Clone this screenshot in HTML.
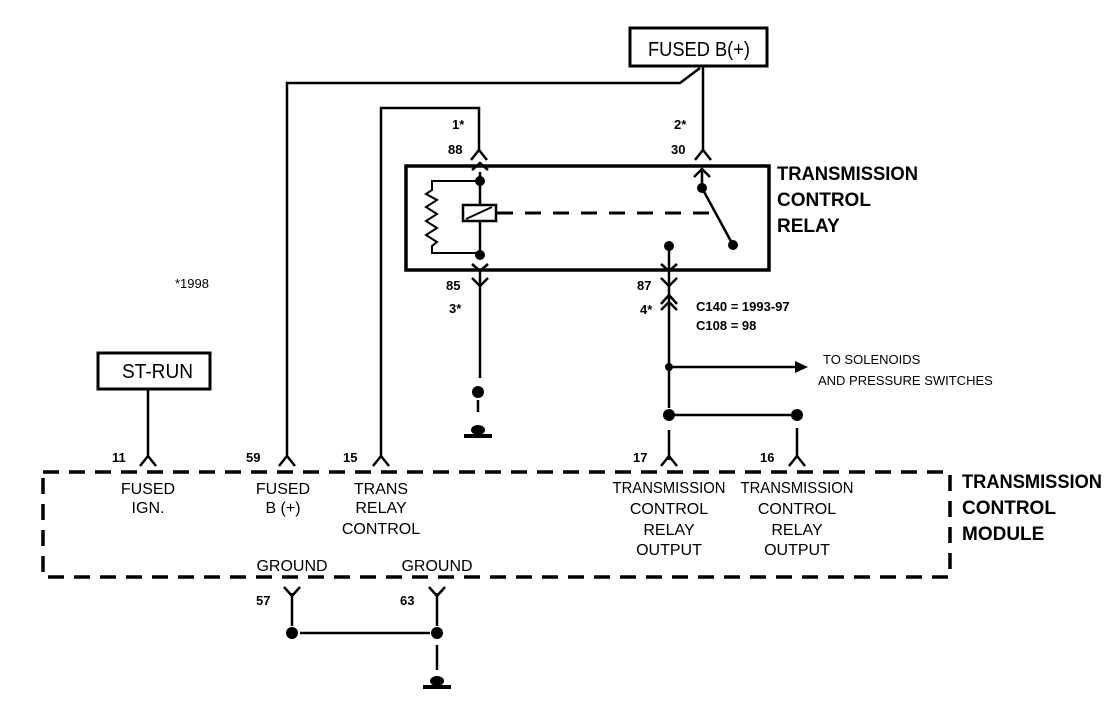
<!DOCTYPE html>
<html><head><style>
html,body{margin:0;padding:0;background:#fff;}
svg{display:block;}
text{font-family:"Liberation Sans",sans-serif;fill:#000;}
.s{font-size:16px;}
.b{font-size:19px;font-weight:bold;}
.n{font-size:13px;font-weight:bold;}
</style></head><body>
<svg width="1120" height="716" viewBox="0 0 1120 716" xmlns="http://www.w3.org/2000/svg">
<g stroke="#000" stroke-width="2.5" fill="none">
<rect x="630" y="28" width="137" height="38" stroke-width="3"/>
<path d="M703 66 V150"/>
<path d="M287 455 V83 H680 L700 68"/>
<path d="M381 455 V108 H479 V150"/>
<rect x="406" y="166" width="363" height="104" stroke-width="3.5"/>
<path d="M480 172 V256"/>
<rect x="463" y="205" width="33" height="16" fill="#fff"/>
<path d="M466 219 L492 207" stroke-width="2"/>
<path d="M480 181 H432 V190 L426 194 L437 200 L426 207 L437 214 L426 221 L437 228 L426 235 L437 242 L432 246 V253 H480" stroke-width="2"/>
<path d="M497 213 H712" stroke-dasharray="16,12" stroke-width="3"/>
<path d="M702 170 V188 L733 245" />
<path d="M669 246 V270"/>
<path d="M480 272 V378"/>
<path d="M478 400 V412"/>
<path d="M669 272 V408"/>
<path d="M669 367 H795"/>
<path d="M669 415 H797"/>
<path d="M669 430 V460"/>
<path d="M797 428 V458"/>
<rect x="98" y="353" width="112" height="36" stroke-width="3"/>
<path d="M148 389 V455"/>
<rect x="43" y="472" width="907" height="105" stroke-dasharray="16,10" stroke-width="3.5"/>
<path d="M292 593 V626 M437 593 V626 M300 633 H430 M437 645 V670"/>
</g>
<g stroke="#000" stroke-width="2.5" fill="none">
<path d="M140 466 L148 456 L156 466 M279 466 L287 456 L295 466 M373 466 L381 456 L389 466 M661 466 L669 456 L677 466 M789 466 L797 456 L805 466"/>
<path d="M471 160 L479 150 L487 160 M695 160 L703 150 L711 160"/>
<path d="M472 170 L480 163 L488 170 M694 177 L702 169 L710 177"/>
<path d="M472 264 L480 271 L488 264 M661 264 L669 271 L677 264"/>
<path d="M472 278 L480 286 L488 278 M661 278 L669 286 L677 278"/>
<path d="M661 304 L669 295 L677 304 M661 310 L669 302 L677 310"/>
<path d="M284 587 L292 596 L300 587 M429 587 L437 596 L445 587"/>
</g>
<polygon points="795,361 808,367 795,373" fill="#000"/>
<g fill="#000">
<circle cx="480" cy="181" r="5"/><circle cx="480" cy="255" r="5"/>
<circle cx="702" cy="188" r="5"/><circle cx="733" cy="245" r="5"/>
<circle cx="669" cy="246" r="5"/>
<circle cx="478" cy="392" r="6"/><circle cx="669" cy="367" r="4"/>
<circle cx="669" cy="415" r="6"/><circle cx="797" cy="415" r="6"/>
<circle cx="292" cy="633" r="6"/><circle cx="437" cy="633" r="6"/>
<ellipse cx="478" cy="430" rx="7" ry="5"/><rect x="464" y="434" width="28" height="4"/>
<ellipse cx="437" cy="681" rx="7" ry="5"/><rect x="423" y="685" width="28" height="4"/>
</g>
<text x="648" y="56" style="font-size:20px" textLength="102" lengthAdjust="spacingAndGlyphs">FUSED B(+)</text>
<text x="122" y="378" style="font-size:20px" textLength="71" lengthAdjust="spacingAndGlyphs">ST-RUN</text>
<text class="n" x="452" y="129">1*</text>
<text class="n" x="448" y="154">88</text>
<text class="n" x="674" y="129">2*</text>
<text class="n" x="671" y="154">30</text>
<text class="n" x="446" y="290">85</text>
<text class="n" x="449" y="313">3*</text>
<text class="n" x="637" y="290">87</text>
<text class="n" x="640" y="314">4*</text>
<text class="n" x="175" y="288" style="font-weight:normal">*1998</text>
<text class="n" x="696" y="311">C140 = 1993-97</text>
<text class="n" x="696" y="330">C108 = 98</text>
<text class="n" x="823" y="364" style="font-weight:normal">TO SOLENOIDS</text>
<text class="n" x="818" y="385" style="font-weight:normal">AND PRESSURE SWITCHES</text>
<text class="b" x="777" y="180" textLength="141" lengthAdjust="spacingAndGlyphs">TRANSMISSION</text>
<text class="b" x="777" y="206">CONTROL</text>
<text class="b" x="777" y="232">RELAY</text>
<text class="b" x="962" y="488" textLength="140" lengthAdjust="spacingAndGlyphs">TRANSMISSION</text>
<text class="b" x="962" y="514">CONTROL</text>
<text class="b" x="962" y="540">MODULE</text>
<text class="n" x="112" y="462">11</text>
<text class="n" x="246" y="462">59</text>
<text class="n" x="343" y="462">15</text>
<text class="n" x="633" y="462">17</text>
<text class="n" x="760" y="462">16</text>
<text class="n" x="256" y="605">57</text>
<text class="n" x="400" y="605">63</text>
<g class="s" text-anchor="middle">
<text x="148" y="494">FUSED</text><text x="148" y="513">IGN.</text>
<text x="283" y="494">FUSED</text><text x="283" y="513">B (+)</text>
<text x="381" y="494">TRANS</text><text x="381" y="513">RELAY</text><text x="381" y="534">CONTROL</text>
<text x="669" y="493" textLength="113" lengthAdjust="spacingAndGlyphs">TRANSMISSION</text><text x="669" y="514">CONTROL</text><text x="669" y="535">RELAY</text><text x="669" y="555">OUTPUT</text>
<text x="797" y="493" textLength="113" lengthAdjust="spacingAndGlyphs">TRANSMISSION</text><text x="797" y="514">CONTROL</text><text x="797" y="535">RELAY</text><text x="797" y="555">OUTPUT</text>
<text x="292" y="571">GROUND</text><text x="437" y="571">GROUND</text>
</g>
</svg>
</body></html>
